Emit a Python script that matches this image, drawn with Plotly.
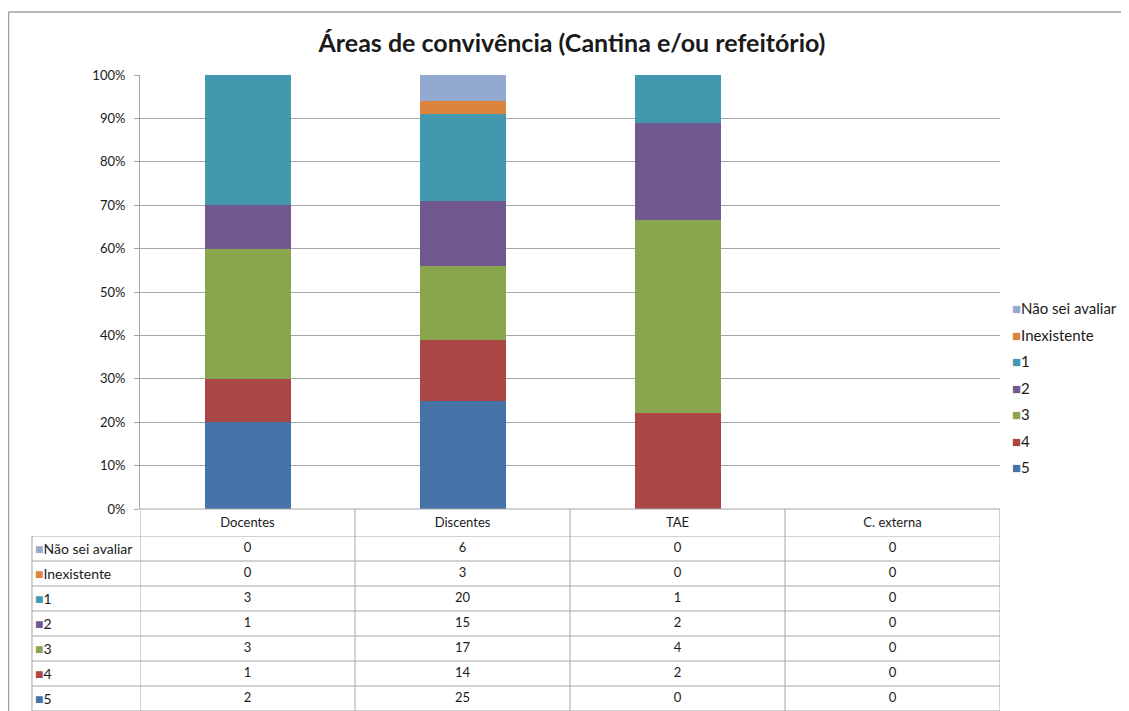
import plotly.graph_objects as go

categories = ["Docentes", "Discentes", "TAE", "C. externa"]
series_names = ["5", "4", "3", "2", "1", "Inexistente", "Não sei avaliar"]
values_5 = [2, 25, 0, 0]
values_4 = [1, 14, 2, 0]
values_3 = [3, 17, 4, 0]
values_2 = [1, 15, 2, 0]
values_1 = [3, 20, 1, 0]
values_inex = [0, 3, 0, 0]
values_nsa = [0, 6, 0, 0]
series_values = [values_5, values_4, values_3, values_2, values_1, values_inex, values_nsa]
colors = ["#4572A7", "#AA4643", "#89A54E", "#71588F", "#4198AF", "#DB843D", "#93A9CF"]
ytick_vals = [0, 10, 20, 30, 40, 50, 60, 70, 80, 90, 100]
ytick_text = [f"{v}%" for v in ytick_vals]

# page has an 8px body margin: work in screen pixels and compensate
OFF = 8
SW, SH = 1129, 711
W, H = SW - OFF, SH - OFF
PL, PR, PT, PB = 140, 1000, 75, 711  # plot region in screen px (incl. table)
ML, MR, MT, MB = PL - OFF, SW - PR, PT - OFF, SH - PB
PW, PH = PR - PL, PB - PT

def px_x(p):
    return (p - PL) / PW

def px_y(p):
    return (PB - p) / PH

FONT = "Lato, 'Open Sans', sans-serif"
TXT = "#1a1a1a"
GRID = "#a6a6a6"

fig = go.Figure()
for i, (name, vals, col) in enumerate(zip(series_names, series_values, colors)):
    fig.add_trace(go.Bar(
        x=categories, y=vals, name=name, marker=dict(color=col, line=dict(width=0)),
        xaxis="x", yaxis="y", showlegend=False,
    ))
# legend entries: coloured square glyph + name
for i, (name, col) in enumerate(zip(series_names, colors)):
    fig.add_trace(go.Scatter(
        x=[None], y=[None], mode="markers",
        name=f"<span style='color:{col}'>■</span>{name}",
        marker=dict(symbol="square", size=1, color="rgba(0,0,0,0)", opacity=0),
        legendgroup=name, legendrank=100 - i, xaxis="x", yaxis="y",
    ))

table_rows = list(reversed(series_names))
tx, ty, tt = [], [], []
for name, vals in zip(series_names, series_values):
    for c, v in zip(categories, vals):
        tx.append(c); ty.append(name); tt.append(str(v))
fig.add_trace(go.Scatter(
    x=tx, y=ty, text=tt, mode="text", showlegend=False,
    textfont=dict(family=FONT, size=13, color=TXT),
    xaxis="x2", yaxis="y2", hoverinfo="skip",
))

y_top_bottom = px_y(509)
y2_top = px_y(536)

shapes = []
shapes.append(dict(type="line", xref="paper", yref="paper",
                   x0=px_x(OFF + 0.5), x1=px_x(SW + 5), y0=px_y(12), y1=px_y(12),
                   line=dict(color="#a0a0a0", width=1.5)))
shapes.append(dict(type="line", xref="paper", yref="paper",
                   x0=px_x(OFF + 0.5), x1=px_x(OFF + 0.5), y0=px_y(12), y1=px_y(SH + 5),
                   line=dict(color="#a0a0a0", width=1.5)))
n = len(categories)
for b in [i - 0.5 for i in range(n + 1)]:
    shapes.append(dict(type="line", xref="x", yref="paper", x0=b, x1=b,
                       y0=0, y1=y_top_bottom, line=dict(color=GRID, width=1)))
nr = len(table_rows)
for b in [i - 0.5 for i in range(nr + 1)]:
    shapes.append(dict(type="line", xref="paper", yref="y2", x0=px_x(32), x1=1,
                       y0=b, y1=b, line=dict(color=GRID, width=1)))
shapes.append(dict(type="line", xref="paper", yref="y2", x0=px_x(32), x1=px_x(32),
                   y0=-0.5, y1=nr - 0.5, line=dict(color=GRID, width=1)))
shapes.append(dict(type="line", xref="paper", yref="paper", x0=0, x1=1,
                   y0=y_top_bottom, y1=y_top_bottom, line=dict(color=GRID, width=1)))

annotations = []
for idx, name in enumerate(table_rows):
    col = colors[series_names.index(name)]
    annotations.append(dict(
        xref="paper", yref="y2", x=px_x(33), y=idx, xanchor="left", yanchor="middle",
        showarrow=False,
        text=f"<span style='color:{col}'>■</span>{name}",
        font=dict(family=FONT, size=14, color=TXT),
    ))

fig.update_layout(
    width=W, height=H,
    margin=dict(l=ML, r=MR, t=MT, b=MB, autoexpand=False),
    paper_bgcolor="white", plot_bgcolor="white",
    barmode="stack", barnorm="percent", bargap=0.6,
    title=dict(text="<b>Áreas de convivência (Cantina e/ou refeitório)</b>",
               x=(572 - OFF) / W, xanchor="center",
               y=(SH - 43) / H, yanchor="middle",
               font=dict(family=FONT, size=25, color=TXT)),
    xaxis=dict(domain=[0, 1], anchor="y", type="category", categoryarray=categories,
               range=[-0.5, n - 0.5], showgrid=False, showline=False, ticks="",
               ticklabelstandoff=4,
               tickfont=dict(family=FONT, size=13, color=TXT), zeroline=False),
    yaxis=dict(domain=[y_top_bottom, 1], anchor="x", range=[0, 100],
               tickvals=ytick_vals, ticktext=ytick_text, showgrid=True, gridcolor=GRID,
               gridwidth=1, showline=True, linecolor=GRID, ticks="outside", ticklen=5,
               tickcolor=GRID, zeroline=False, ticklabelstandoff=6,
               tickfont=dict(family=FONT, size=13, color=TXT)),
    xaxis2=dict(domain=[0, 1], anchor="y2", matches="x", type="category",
                categoryarray=categories, showticklabels=False, showgrid=False,
                showline=False, ticks="", zeroline=False),
    yaxis2=dict(domain=[0, y2_top], anchor="x2", type="category",
                categoryarray=table_rows, range=[nr - 0.5, -0.5],
                showticklabels=False, showgrid=False, showline=False, ticks="", zeroline=False),
    legend=dict(x=px_x(972), y=px_y(388), xanchor="left", yanchor="middle",
                traceorder="grouped", tracegroupgap=4, itemwidth=30,
                bgcolor="rgba(0,0,0,0)", font=dict(family=FONT, size=15, color=TXT)),
    shapes=shapes, annotations=annotations,
    showlegend=True,
)

fig.write_html("out.html")
